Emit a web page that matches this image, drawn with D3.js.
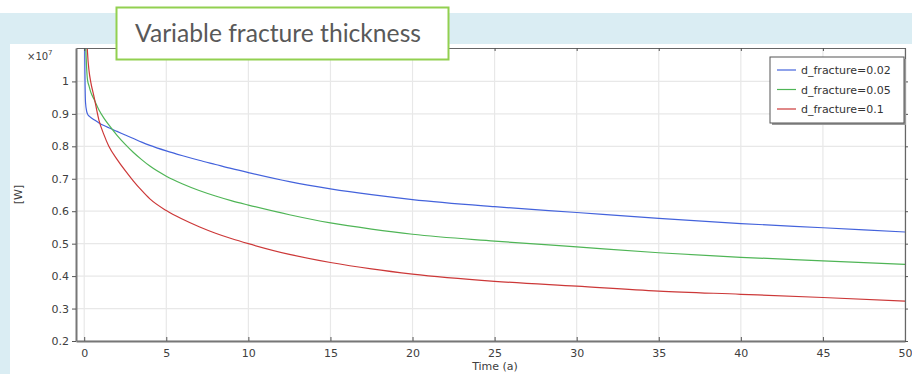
<!DOCTYPE html>
<html>
<head>
<meta charset="utf-8">
<script src="https://cdn.jsdelivr.net/npm/d3@7"></script>
<style>
  body { margin: 0; background: #fff; }
  svg { display: block; }
  text { font-family: "DejaVu Sans", sans-serif; }
</style>
</head>
<body>
<svg id="chart" width="912" height="374"></svg>
<script>
// time axis (years), shared by all series
const times = [0, 0.03, 0.08, 0.15, 0.2, 0.3, 0.4, 0.6, 0.9, 1.2, 1.5, 2, 2.5, 3, 3.5, 4, 5, 6, 7, 8, 9, 10, 12.5, 15, 17.5, 20, 25, 30, 35, 40, 45, 50];

// heat rate, units of 1e7 W
const d002 = [1.5, 1.10, 0.935, 0.908, 0.900, 0.893, 0.889, 0.882, 0.872, 0.864, 0.857, 0.846, 0.835, 0.824, 0.813, 0.803, 0.786, 0.771, 0.757, 0.744, 0.731, 0.719, 0.691, 0.669, 0.651, 0.636, 0.614, 0.596, 0.578, 0.562, 0.549, 0.536];
const d005 = [2.0, 1.5, 1.15, 1.04, 1.005, 0.985, 0.967, 0.945, 0.912, 0.887, 0.866, 0.834, 0.806, 0.781, 0.759, 0.739, 0.708, 0.684, 0.664, 0.647, 0.632, 0.619, 0.589, 0.564, 0.545, 0.529, 0.508, 0.490, 0.472, 0.458, 0.447, 0.436];
const d01  = [3.0, 2.0, 1.4, 1.15, 1.09, 1.03, 0.998, 0.952, 0.880, 0.836, 0.800, 0.760, 0.725, 0.693, 0.664, 0.638, 0.602, 0.575, 0.552, 0.532, 0.515, 0.500, 0.467, 0.442, 0.422, 0.406, 0.384, 0.369, 0.354, 0.344, 0.334, 0.323];

const seriesNames = ["d_fracture=0.02", "d_fracture=0.05", "d_fracture=0.1"];
const seriesValues = [d002, d005, d01];
const seriesColors = ["#4463dc", "#4fb556", "#cc3838"];

const xTicks = [0, 5, 10, 15, 20, 25, 30, 35, 40, 45, 50];
const yTicks = [0.2, 0.3, 0.4, 0.5, 0.6, 0.7, 0.8, 0.9, 1];

const svg = d3.select("#chart");

// background bands
svg.append("rect").attr("x", 0).attr("y", 13).attr("width", 912).attr("height", 31).attr("fill", "#daedf3");
svg.append("rect").attr("x", 0).attr("y", 13).attr("width", 10).attr("height", 361).attr("fill", "#daedf3");

const pLeft = 76, pRight = 905, pTop = 48, pBottom = 341;
const x = d3.scaleLinear().domain([-0.5, 50]).range([pLeft, pRight]);
const y = d3.scaleLinear().domain([0.2, 1.103]).range([pBottom, pTop]);

// grid
const grid = svg.append("g");
grid.selectAll(".gx").data(xTicks).enter().append("line")
    .attr("x1", d => x(d)).attr("x2", d => x(d))
    .attr("y1", pTop).attr("y2", pBottom)
    .attr("stroke", "#e8e8e8").attr("stroke-width", 1.2);
grid.selectAll(".gy").data(yTicks).enter().append("line")
    .attr("x1", pLeft).attr("x2", pRight)
    .attr("y1", d => y(d)).attr("y2", d => y(d))
    .attr("stroke", "#e8e8e8").attr("stroke-width", 1.2);

// clip for curves
svg.append("defs").append("clipPath").attr("id", "plot-clip")
    .append("rect").attr("x", pLeft).attr("y", pTop).attr("width", pRight - pLeft).attr("height", pBottom - pTop);

const line = d3.line()
    .x((d, i) => x(times[i]))
    .y(d => y(d))
    .curve(d3.curveMonotoneX);

svg.append("g").attr("clip-path", "url(#plot-clip)")
    .selectAll("path").data(seriesValues).enter().append("path")
    .attr("d", d => line(d))
    .attr("fill", "none")
    .attr("stroke", (d, i) => seriesColors[i])
    .attr("stroke-width", 1.2);

// axes
const xAxis = svg.append("g").attr("transform", `translate(0,${pBottom})`)
    .call(d3.axisBottom(x).tickValues(xTicks).tickSizeInner(-4).tickSizeOuter(0).tickPadding(10));
const yAxis = svg.append("g").attr("transform", `translate(${pLeft},0)`)
    .call(d3.axisLeft(y).tickValues(yTicks).tickFormat(d => d === 1 ? "1" : d3.format(".1f")(d)).tickSizeInner(4).tickSizeOuter(0).tickPadding(3));
[xAxis, yAxis].forEach(a => {
    a.select(".domain").attr("stroke", "#777").attr("stroke-width", 2);
    a.selectAll(".tick line").attr("stroke", "#555");
    a.selectAll(".tick text").attr("fill", "#404040").style("font-size", "11px").style("font-family", "DejaVu Sans, sans-serif");
});
xAxis.selectAll(".tick text").attr("dy", "0.5em");

// top and right frame
const topAxis = svg.append("g").attr("transform", `translate(0,${pTop})`)
    .call(d3.axisTop(x).tickValues(xTicks).tickSizeInner(-3).tickSizeOuter(0).tickFormat(""));
const rightAxis = svg.append("g").attr("transform", `translate(${pRight},0)`)
    .call(d3.axisRight(y).tickValues(yTicks).tickSizeInner(3).tickSizeOuter(0).tickFormat(""));
[topAxis, rightAxis].forEach(a => {
    a.select(".domain").attr("stroke", "#666").attr("stroke-width", 1.2);
    a.selectAll(".tick line").attr("stroke", "#555");
});

// axis labels
const mult = svg.append("text").attr("x", 27).attr("y", 60).attr("fill", "#404040").style("font-size", "10px");
mult.append("tspan").text("×10");
mult.append("tspan").attr("dy", -5).style("font-size", "7px").text("7");

svg.append("text").attr("transform", `translate(22,${(pTop + pBottom) / 2}) rotate(-90)`)
    .attr("text-anchor", "middle").attr("fill", "#404040").style("font-size", "11px").text("[W]");

svg.append("text").attr("x", 495).attr("y", 370).attr("text-anchor", "middle")
    .attr("fill", "#404040").style("font-size", "11px").text("Time (a)");

// legend
const lg = svg.append("g").attr("transform", "translate(770,57)");
lg.append("rect").attr("x", 2).attr("y", 2).attr("width", 134).attr("height", 66).attr("fill", "#9a9a9a");
lg.append("rect").attr("width", 134).attr("height", 66).attr("fill", "#fff").attr("stroke", "#555").attr("stroke-width", 1);
seriesNames.forEach((name, i) => {
    const yy = 13 + i * 19.5;
    lg.append("line").attr("x1", 7).attr("x2", 26).attr("y1", yy).attr("y2", yy)
        .attr("stroke", seriesColors[i]).attr("stroke-width", 1.2);
    lg.append("text").attr("x", 31).attr("y", yy + 4).attr("fill", "#333")
        .style("font-size", "11px").text(name);
});

// title box
svg.append("rect").attr("x", 116.5).attr("y", 7.5).attr("width", 332).attr("height", 52)
    .attr("fill", "#fff").attr("stroke", "#92d050").attr("stroke-width", 2);
const title = svg.append("text").attr("x", 135).attr("y", 42).attr("fill", "#595959")
    .style("font-family", "Lato, sans-serif").style("font-size", "25px").text("Variable fracture thickness");
const tw = title.node().getComputedTextLength();
if (Math.abs(tw - 286) > 3) title.attr("textLength", 286).attr("lengthAdjust", "spacingAndGlyphs");
</script>
</body>
</html>
